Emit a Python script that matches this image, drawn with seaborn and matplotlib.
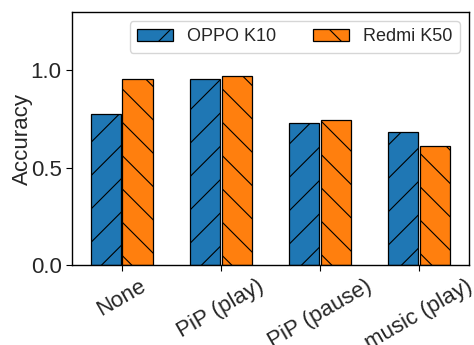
import matplotlib
matplotlib.use("Agg")
import matplotlib.pyplot as plt
import seaborn as sns
import pandas as pd

categories = ["None", "PiP (play)", "PiP (pause)", "music (play)"]
series_names = ["OPPO K10", "Redmi K50"]
oppo_k10 = [0.778, 0.957, 0.728, 0.686]
redmi_k50 = [0.957, 0.973, 0.745, 0.612]
yticks = [0.0, 0.5, 1.0]

df = pd.DataFrame({
    "cat": categories * 2,
    "device": [series_names[0]] * 4 + [series_names[1]] * 4,
    "acc": oppo_k10 + redmi_k50,
})

sns.set_style("white")
plt.rcParams['font.family'] = ['Liberation Sans', 'DejaVu Sans']
plt.rcParams['hatch.linewidth'] = 0.8

fig = plt.figure(figsize=(4.74, 3.45), dpi=100)
ax = fig.add_axes([0.152, 0.232, 0.837, 0.733])

sns.barplot(data=df, x="cat", y="acc", hue="device", order=categories,
            hue_order=series_names, palette=["#1f77b4", "#ff7f0e"],
            saturation=1, width=0.64, gap=0.05, edgecolor="black",
            linewidth=0.9, errorbar=None, ax=ax)

hatches = ["/", "\\"]
for container, h in zip(ax.containers, hatches):
    for bar in container:
        bar.set_hatch(h)

ax.set_xlim(-0.5, 3.5)
ax.set_ylim(0, 1.3)
ax.set_yticks(yticks)
ax.set_yticklabels([f"{v:.1f}" for v in yticks], fontsize=16)
ax.set_xlabel("")
ax.set_ylabel("Accuracy", fontsize=16, labelpad=-2)
plt.setp(ax.get_xticklabels(), rotation=30, fontsize=16)
ax.tick_params(axis="both", which="both", bottom=True, left=True, length=4, color="black")
for s in ax.spines.values():
    s.set_edgecolor("black")
    s.set_linewidth(1)

leg = ax.legend(loc="upper right", ncol=2, fontsize=13, frameon=True)
for p, h in zip(leg.get_patches(), hatches):
    p.set_hatch(h)
    p.set_edgecolor("black")

fig.savefig("out.png", dpi=100)
